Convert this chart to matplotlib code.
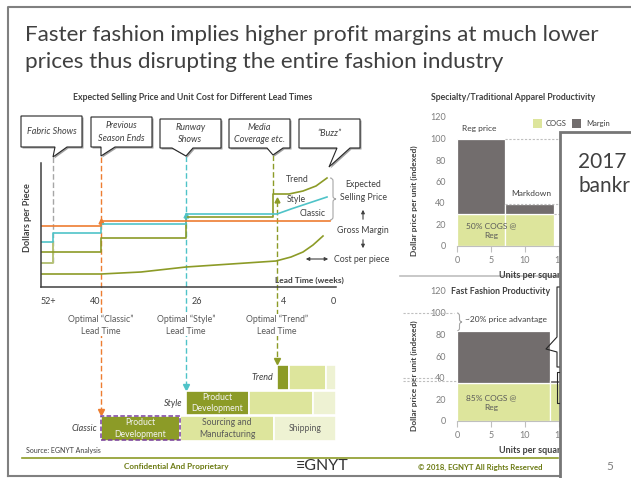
import matplotlib.pyplot as plt
from matplotlib.patches import Rectangle, Polygon, PathPatch
from matplotlib.path import Path

plt.rcParams["font.family"] = ["Lato", "DejaVu Sans"]

# ---------------- data ----------------
lead_tick_pos = [7, 54, 156, 243, 292]
lead_tick_labels = ["52+", "40", "26", "4", "0"]

classic_x = [0, 60, 60, 289]
classic_y = [61, 61, 66, 66]

style_x = [0, 12, 12, 60, 60, 145, 145, 236, 250, 265, 286]
style_y = [45, 45, 54, 54, 63, 63, 73, 73, 78, 83, 90]

trend_x = [0, 60, 60, 145, 145, 232, 232, 248, 262, 275, 286]
trend_y = [35, 35, 49, 49, 70, 70, 93, 93, 96, 101, 109]

trend_early_x = [0, 12, 12]
trend_early_y = [24, 24, 45]

cost_x = [0, 60, 100, 145, 190, 235, 250, 262, 272, 282]
cost_y = [13, 13, 15, 20, 23, 26, 30, 35, 42, 51]

gantt_rows = ["Classic", "Style", "Trend"]
gantt_start = [60, 145, 236]
gantt_dev = [79, 63, 12]
gantt_sourcing = [94, 64, 37]
gantt_shipping = [62, 23, 10]

spec_units = [7.1, 7.2]
spec_cogs = [30, 30]
spec_margin = [70, 9]

fast_units = [13.7, 7.0]
fast_cogs = [35, 35]
fast_margin = [48, 3]

# ---------------- style ----------------
ORANGE = "#ed7d31"
CYAN = "#4fc3c8"
OLIVE = "#8c9b27"
OLIVE_LT = "#b6c278"
DARK = "#404040"
GREY = "#595959"
COGS_C = "#dde59c"
SHIP_C = "#eef2d3"
MARGIN_C = "#726d6d"
DASH = (0, (4, 2))

W, H = 631, 478


def rect(x0, y0, x1, y1):
    return [x0 / W, 1 - y1 / H, (x1 - x0) / W, (y1 - y0) / H]


def brace(ax, x, y0, y1, w, color):
    ym = (y0 + y1) / 2
    d = min(3, (y1 - y0) / 4)
    xm = x + w / 2
    verts = [(x, y0), (xm, y0), (xm, y0 + d), (xm, ym - d), (xm, ym), (x + w, ym),
             (xm, ym), (xm, ym + d), (xm, y1 - d), (xm, y1), (x, y1)]
    codes = [Path.MOVETO, Path.CURVE3, Path.CURVE3, Path.LINETO, Path.CURVE3, Path.CURVE3,
             Path.CURVE3, Path.CURVE3, Path.LINETO, Path.CURVE3, Path.CURVE3]
    ax.add_patch(PathPatch(Path(verts, codes), fc="none", ec=color, lw=0.8))


def bubble(ax, x0, y0, x1, y1, ta, tb, tip, text):
    verts = [(x0, y0), (x1, y0), (x1, y1), (tb, y1), tip, (ta, y1), (x0, y1)]
    ax.add_patch(Polygon([(x + 1.5, y + 1.5) for x, y in verts], closed=True,
                         fc="#a0a0a0", ec="none", zorder=3))
    ax.add_patch(Polygon(verts, closed=True, fc="white", ec="#262626",
                         lw=0.8, zorder=4))
    ax.text((x0 + x1) / 2, (y0 + y1) / 2, text, ha="center", va="center",
            style="italic", fontsize=6.5, color=DARK, linespacing=1.45, zorder=5)


fig = plt.figure(figsize=(6.31, 4.78), dpi=100)

# ==================================================
# SLIDE BACKGROUND
# ==================================================
bg = fig.add_axes([0, 0, 1, 1])
bg.set_xlim(0, W)
bg.set_ylim(H, 0)
bg.axis("off")

bg.plot([8, 8, W], [476, 7, 7], color="#808080", lw=1.5)
bg.plot([8, 560], [476, 476], color="#808080", lw=1.5)

bg.text(25, 35, "Faster fashion implies higher profit margins at much lower",
        fontsize=16.2, color=DARK, va="center")
bg.text(25, 62, "prices thus disrupting the entire fashion industry",
        fontsize=16.2, color=DARK, va="center")

bg.text(193, 97, "Expected Selling Price and Unit Cost for Different Lead Times",
        ha="center", va="center", fontsize=6.3, weight="bold", color=DARK)

bubble(bg, 21, 116, 82, 147, 55, 67, (53, 157), "Fabric Shows")
bubble(bg, 91, 117, 152, 147, 101, 115, (101, 156), "Previous\nSeason Ends")
bubble(bg, 160, 119, 221, 148, 172, 193, (186, 156), "Runway\nShows")
bubble(bg, 229, 119, 290, 148, 267, 283, (273, 155), "Media\nCoverage etc.")
bubble(bg, 299, 119, 360, 148, 337, 350, (329, 167), "\u201cBuzz\u201d")

# dashed lead-time markers
bg.plot([53, 53], [157, 263], color="#a6a6a6", ls=DASH, lw=1)
bg.plot([101, 101], [157, 409], color=ORANGE, ls=DASH, lw=1)
bg.plot([101], [412], marker="v", ms=4, color=ORANGE)
bg.plot([101], [221], marker="^", ms=3.5, color=ORANGE, zorder=6)
bg.plot([186, 186], [156, 384], color=CYAN, ls=DASH, lw=1)
bg.plot([186], [387], marker="v", ms=4, color=CYAN)
bg.plot([186], [215], marker="^", ms=3.5, color=CYAN, zorder=6)
bg.plot([273, 273], [155, 194], color=OLIVE, ls=DASH, lw=1)
bg.plot([277, 277], [201, 358], color=OLIVE, ls=DASH, lw=1)
bg.plot([277], [361], marker="v", ms=4, color=OLIVE)
bg.plot([277], [200], marker="^", ms=3.5, color=OLIVE, zorder=6)

for xc, name in [(101, "Classic"), (186, "Style"), (277, "Trend")]:
    bg.text(xc, 325, f"Optimal \u201c{name}\u201d\nLead Time", ha="center",
            va="center", fontsize=6.3, color=GREY, linespacing=1.45,
            bbox=dict(fc="white", ec="none", pad=0.3), zorder=5)

# right-hand annotations of left chart
bg.text(297, 180, "Trend", ha="center", va="center", fontsize=6.3, color=DARK)
bg.text(296, 199, "Style", ha="center", va="center", fontsize=6.3, color=DARK)
bg.text(313, 213, "Classic", ha="center", va="center", fontsize=6.3, color=DARK)
brace(bg, 330, 178, 220, 6, "#a6a6a6")
bg.text(363, 191, "Expected\nSelling Price", ha="center", va="center",
        fontsize=6.3, color=DARK, linespacing=1.45)
bg.annotate("", xy=(363, 207), xytext=(363, 222),
            arrowprops=dict(arrowstyle="-|>", color=DARK, lw=0.8, mutation_scale=5))
bg.text(363, 230, "Gross Margin", ha="center", va="center", fontsize=6.3, color=DARK)
bg.annotate("", xy=(363, 251), xytext=(363, 237),
            arrowprops=dict(arrowstyle="-|>", color=DARK, lw=0.8, mutation_scale=5))
bg.annotate("", xy=(331, 259), xytext=(303, 259),
            arrowprops=dict(arrowstyle="<|-|>", color=DARK, lw=0.8, mutation_scale=5))
bg.text(334, 259, "Cost per piece", ha="left", va="center", fontsize=6.3, color=DARK)

# right charts decoration
bg.text(431, 97, "Specialty/Traditional Apparel Productivity", ha="left",
        va="center", fontsize=6.3, weight="bold", color=DARK)
bg.add_patch(Rectangle((533, 119), 9, 9, fc=COGS_C, ec="none"))
bg.text(546, 123.5, "COGS", fontsize=5.5, color=DARK, va="center")
bg.add_patch(Rectangle((572, 119), 9, 9, fc=MARGIN_C, ec="none"))
bg.text(586, 123.5, "Margin", fontsize=5.5, color=DARK, va="center")
bg.plot([400, 560], [276, 276], color="#bfbfbf", lw=1.2)
bg.text(451, 291, "Fast Fashion Productivity", ha="left", va="center",
        fontsize=6.3, weight="bold", color=DARK)
brace(bg, 457, 313, 331, 5, "#a6a6a6")

# footer
bg.text(26, 450, "Source: EGNYT Analysis", fontsize=5, color=DARK, va="center")
bg.plot([22, 558], [458, 458], color=OLIVE, lw=1.2)
bg.text(176, 467, "Confidential And Proprietary", ha="center", va="center",
        fontsize=5.9, weight="bold", color="#6b7a12")
bg.text(322, 466, "\u2261GNYT", ha="center", va="center", fontsize=11.5,
        color="#333333")
bg.text(480, 467, "\u00a9 2018, EGNYT All Rights Reserved", ha="center",
        va="center", fontsize=5.6, weight="bold", color="#6b7a12")

# ==================================================
# LEFT CHART: PRICE VS LEAD TIME
# ==================================================
ax = fig.add_axes(rect(41, 163, 336, 287))
ax.patch.set_alpha(0)
ax.set_xlim(0, 295)
ax.set_ylim(0, 124)

ax.plot(cost_x, cost_y, color=OLIVE, lw=1.2)
ax.plot(trend_early_x, trend_early_y, color=OLIVE_LT, lw=1.4)
ax.plot(trend_x, trend_y, color=OLIVE, lw=1.2)
ax.plot(style_x, style_y, color=CYAN, lw=1.2)
ax.plot(classic_x, classic_y, color=ORANGE, lw=1.2)

for side in ["top", "right"]:
    ax.spines[side].set_visible(False)
for side in ["left", "bottom"]:
    ax.spines[side].set_color(DARK)
    ax.spines[side].set_linewidth(1.1)

ax.set_yticks([])
ax.set_xticks(lead_tick_pos, lead_tick_labels)
ax.tick_params(axis="x", length=0, pad=7, labelsize=6.5, labelcolor=DARK)
ax.set_ylabel("Dollars per Piece", fontsize=6.6, weight="bold", color=DARK,
              labelpad=3)
ax.yaxis.set_label_coords(-0.03, 0.56)
ax.text(0.91, 0.055, "Lead Time (weeks)", transform=ax.transAxes, ha="center",
        va="center", fontsize=6, weight="bold", color=DARK)

# ==================================================
# GANTT OF LEAD TIMES
# ==================================================
gx = fig.add_axes(rect(41, 365, 336, 441))
gx.patch.set_alpha(0)
gx.set_xlim(0, 295)
gx.set_ylim(0, 3)
gx.axis("off")

for i, row in enumerate(gantt_rows):
    y = i + 0.5
    s0 = gantt_start[i]
    s1 = s0 + gantt_dev[i]
    s2 = s1 + gantt_sourcing[i]
    gx.barh(y, gantt_dev[i], left=s0, height=0.97, color=OLIVE,
            edgecolor="white", lw=1.2)
    gx.barh(y, gantt_sourcing[i], left=s1, height=0.97, color=COGS_C,
            edgecolor="white", lw=1.2)
    gx.barh(y, gantt_shipping[i], left=s2, height=0.97, color=SHIP_C,
            edgecolor="white", lw=1.2)
    gx.text(s0 - 4, y, row, ha="right", va="center", style="italic",
            fontsize=6.5, color=DARK)
    if row != "Trend":
        gx.text((s0 + s1) / 2, y, "Product\nDevelopment", ha="center",
                va="center", fontsize=6.2, color="#f4f4f4", linespacing=1.35)
    if row == "Classic":
        gx.text((s1 + s2) / 2, y, "Sourcing and\nManufacturing", ha="center",
                va="center", fontsize=6.2, color=GREY, linespacing=1.35)
        gx.text(s2 + gantt_shipping[i] / 2, y, "Shipping", ha="center",
                va="center", fontsize=6.2, color=GREY)

gx.barh(0.5, gantt_dev[0], left=gantt_start[0], height=0.95, fill=False,
        edgecolor="#7a3ea0", ls=(0, (3, 1.5)), lw=1.1)


# ==================================================
# RIGHT CHARTS: PRODUCTIVITY
# ==================================================
def prod_chart(box, widths, cogs, margin):
    a = fig.add_axes(rect(*box))
    a.patch.set_alpha(0)
    a.set_xlim(0, 20)
    a.set_ylim(0, 120)
    lefts = [sum(widths[:k]) for k in range(len(widths))]
    a.bar(lefts, cogs, width=widths, align="edge", color=COGS_C,
          edgecolor="white", lw=0.9)
    a.bar(lefts, margin, bottom=cogs, width=widths, align="edge",
          color=MARGIN_C, edgecolor="white", lw=0.9)
    for side in ["top", "right", "left"]:
        a.spines[side].set_visible(False)
    a.spines["bottom"].set_color("#bfbfbf")
    a.set_yticks(range(0, 121, 20))
    a.set_xticks(range(0, 21, 5))
    a.tick_params(axis="y", length=0, pad=8, labelsize=6.5, labelcolor="#7f7f7f")
    a.tick_params(axis="x", length=4, color="#bfbfbf", pad=3, labelsize=6.5,
                  labelcolor="#7f7f7f")
    a.set_xlabel("Units per square foot", fontsize=6.5, weight="bold",
                 color=DARK)
    a.xaxis.set_label_coords(0.62, -0.19)
    a.set_ylabel("Dollar price per unit (indexed)", fontsize=6,
                 weight="bold", color=DARK)
    a.yaxis.set_label_coords(-0.29, 0.35)
    return a


a1 = prod_chart((457, 117, 593, 246), spec_units, spec_cogs, spec_margin)
dash_kw = dict(color="#bfbfbf", ls=(0, (2, 1.5)), lw=0.8)
a1.plot([spec_units[0], 20], [100, 100], **dash_kw)
a1.plot([spec_units[0], 20], [39.5, 39.5], **dash_kw)
a1.plot([sum(spec_units), 20], [30, 30], **dash_kw)
a1.text(3.3, 109, "Reg price", ha="center", va="center", fontsize=6, color=DARK)
a1.text(11.0, 49, "Markdown", ha="center", va="center", fontsize=6, color=DARK)
a1.text(5.1, 14, "50% COGS @\nReg", ha="center", va="center", fontsize=6,
        color=GREY, linespacing=1.5)

a2 = prod_chart((457, 291, 593, 421), fast_units, fast_cogs, fast_margin)
a2.plot([-8, -0.4], [100, 100], clip_on=False, **dash_kw)
a2.plot([-8, -2.8], [40, 40], clip_on=False, **dash_kw)
a2.plot([-8, 0], [36.5, 36.5], clip_on=False, **dash_kw)
a2.text(1.2, 94, "~20% price advantage", ha="left", va="center", fontsize=6,
        color=DARK)
a2.text(5.1, 17, "85% COGS @\nReg", ha="center", va="center", fontsize=6,
        color=GREY, linespacing=1.5)

# ==================================================
# OVERLAPPING SLIDE ON THE RIGHT
# ==================================================
top = fig.add_axes([0, 0, 1, 1], zorder=10)
top.set_xlim(0, W)
top.set_ylim(H, 0)
top.axis("off")
top.patch.set_alpha(0)

top.plot([559, 557, 557, 546, 557, 557, 559],
         [287, 287, 337, 349, 352, 367, 367], color="#262626", lw=0.8)
top.plot([559, 557, 557, 559], [372, 372, 403, 403], color="#262626", lw=0.8)
top.add_patch(Rectangle((560, 132), 120, 400, fc="white", ec="#767676", lw=2))
top.text(578, 162, "2017", fontsize=15, color=DARK, va="center", ha="left")
top.text(578, 186, "bankr", fontsize=15, color=DARK, va="center", ha="left")
top.text(610, 467, "5", ha="center", va="center", fontsize=8.5, color="#7f7f7f")

fig.savefig("out.png", dpi=100)
